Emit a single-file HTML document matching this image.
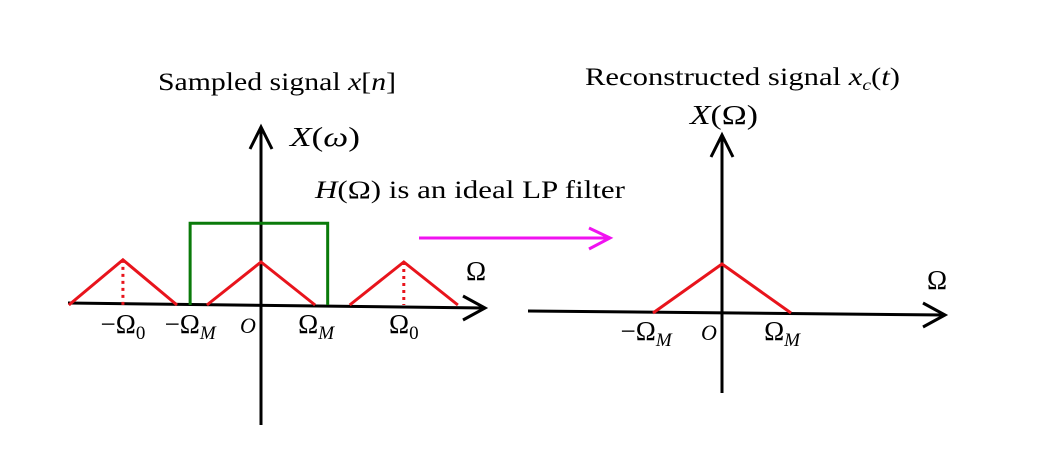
<!DOCTYPE html>
<html><head><meta charset="utf-8"><style>
html,body{margin:0;padding:0;background:#fff}
svg{display:block}
text{font-family:"Liberation Serif",serif;fill:#000}
.it{font-style:italic}
</style></head><body>
<svg id="fig" width="1058" height="473" viewBox="0 0 1058 473">
<g id="labels">
<text x="158" y="90" font-size="25" textLength="238" lengthAdjust="spacingAndGlyphs">Sampled signal <tspan class="it">x</tspan>[<tspan class="it">n</tspan>]</text>
<text x="585" y="85" font-size="25" textLength="315" lengthAdjust="spacingAndGlyphs">Reconstructed signal <tspan class="it">x<tspan font-size="16" dy="5">c</tspan></tspan><tspan dy="-5">(</tspan><tspan class="it">t</tspan>)</text>
<text x="290" y="146" font-size="27" textLength="70" lengthAdjust="spacingAndGlyphs"><tspan class="it">X</tspan>(<tspan class="it">ω</tspan>)</text>
<text x="690" y="124" font-size="27" textLength="68" lengthAdjust="spacingAndGlyphs"><tspan class="it">X</tspan>(Ω)</text>
<text x="315" y="198" font-size="25" textLength="310" lengthAdjust="spacingAndGlyphs"><tspan class="it">H</tspan>(Ω) is an ideal LP filter</text>
<text x="466" y="280" font-size="27">Ω</text>
<text x="927" y="289" font-size="27">Ω</text>
</g>
<g id="marks"></g>
</svg>
<script>
const NS="http://www.w3.org/2000/svg";
// left spectrum data (frequency units: ΩM ≈ 1, Ω0 ≈ 2.7)
const leftTriCenters=[-2.63,0,2.72];
const leftTriHalfWidth=[1.03,1.03,1.03];
const leftTriHeights=[1.05,1,1];
const filterBand=[-1.35,1.27];
const filterGain=[1.9];
const leftTickValues=[-2.63,-1.35,0,1.05,2.72];
const leftTickLabels=["−Ω0","−ΩM","O","ΩM","Ω0"];
// right spectrum data
const rightTriCenters=[0];
const rightTriHalfWidth=[1];
const rightTriHeights=[1];
const rightTickValues=[-1.1,0,0.87];
const rightTickLabels=["−ΩM","O","ΩM"];

const marks=document.getElementById('marks');
function mk(tag,attrs){const e=document.createElementNS(NS,tag);for(const k in attrs)e.setAttribute(k,attrs[k]);marks.appendChild(e);return e;}
// axis functions
const lx=v=>261+v*52.5, ly=v=>305-v*43;
const rx=v=>722+v*69, ry=v=>313-v*49;

function axes(x0,y0,x1,y1,vx,vtop,vbot,name){
  let e=mk('line',{x1:x0,y1:y0,x2:x1,y2:y1,stroke:'#000','stroke-width':3});
  
  
  e=mk('polyline',{points:`${x1-22},${y1-12} ${x1},${y1} ${x1-22},${y1+12}`,fill:'none',stroke:'#000','stroke-width':3});
  
  
  e=mk('line',{x1:vx,y1:vbot,x2:vx,y2:vtop,stroke:'#000','stroke-width':3});
  
  
  e=mk('polyline',{points:`${vx-11},${vtop+22} ${vx},${vtop} ${vx+11},${vtop+22}`,fill:'none',stroke:'#000','stroke-width':3});
  
  
}
axes(68,303,485,308,261,127,425,'left');
axes(528,311,945,315,722,135,393,'right');

// filter
let g=mk('polyline',{points:`${lx(filterBand[0])},${ly(0)} ${lx(filterBand[0])},${ly(filterGain[0])} ${lx(filterBand[1])},${ly(filterGain[0])} ${lx(filterBand[1])},${ly(0)}`,fill:'none',stroke:'#0a7a0a','stroke-width':3});



function tri(c,hw,h,X,Y,name,dotted){
  const e=mk('polyline',{points:`${X(c-hw)},${Y(0)} ${X(c)},${Y(h)} ${X(c+hw)},${Y(0)}`,fill:'none',stroke:'#e8141c','stroke-width':3});
  
  
  if(dotted){
    const d=mk('line',{x1:X(c),y1:Y(h),x2:X(c),y2:Y(0),stroke:'#e8141c','stroke-width':3,'stroke-dasharray':'3 4'});
    
    
  }
}
leftTriCenters.forEach((c,i)=>tri(c,leftTriHalfWidth[i],leftTriHeights[i],lx,ly,'left-spectrum-replica-'+i,c!==0));
rightTriCenters.forEach((c,i)=>tri(c,rightTriHalfWidth[i],rightTriHeights[i],rx,ry,'reconstructed-spectrum',false));

function tick(v,lab,X,y,name){
  const t=mk('text',{x:X(v),y:y,'font-size':27,'text-anchor':'middle'});
  
  
  if(lab==='O'){t.setAttribute('class','it');t.setAttribute('x',X(v)-13);t.setAttribute('font-size',22);t.textContent='O';return;}
  const m=lab.match(/^(−?Ω)(.)$/);
  const s1=document.createElementNS(NS,'tspan');s1.textContent=m[1];t.appendChild(s1);
  const s2=document.createElementNS(NS,'tspan');s2.textContent=m[2];s2.setAttribute('font-size','19');s2.setAttribute('dy','6');
  if(m[2]==='M')s2.setAttribute('class','it');
  t.appendChild(s2);
}
leftTickValues.forEach((v,i)=>tick(v,leftTickLabels[i],lx,333,'left-tick-'+i));
rightTickValues.forEach((v,i)=>tick(v,rightTickLabels[i],rx,340,'right-tick-'+i));

// magenta arrow
let a=mk('line',{x1:419,y1:238,x2:609,y2:238,stroke:'#f012f0','stroke-width':3});


a=mk('polyline',{points:'589,228 610,238 589,249',fill:'none',stroke:'#f012f0','stroke-width':3});


</script>
</body></html>
